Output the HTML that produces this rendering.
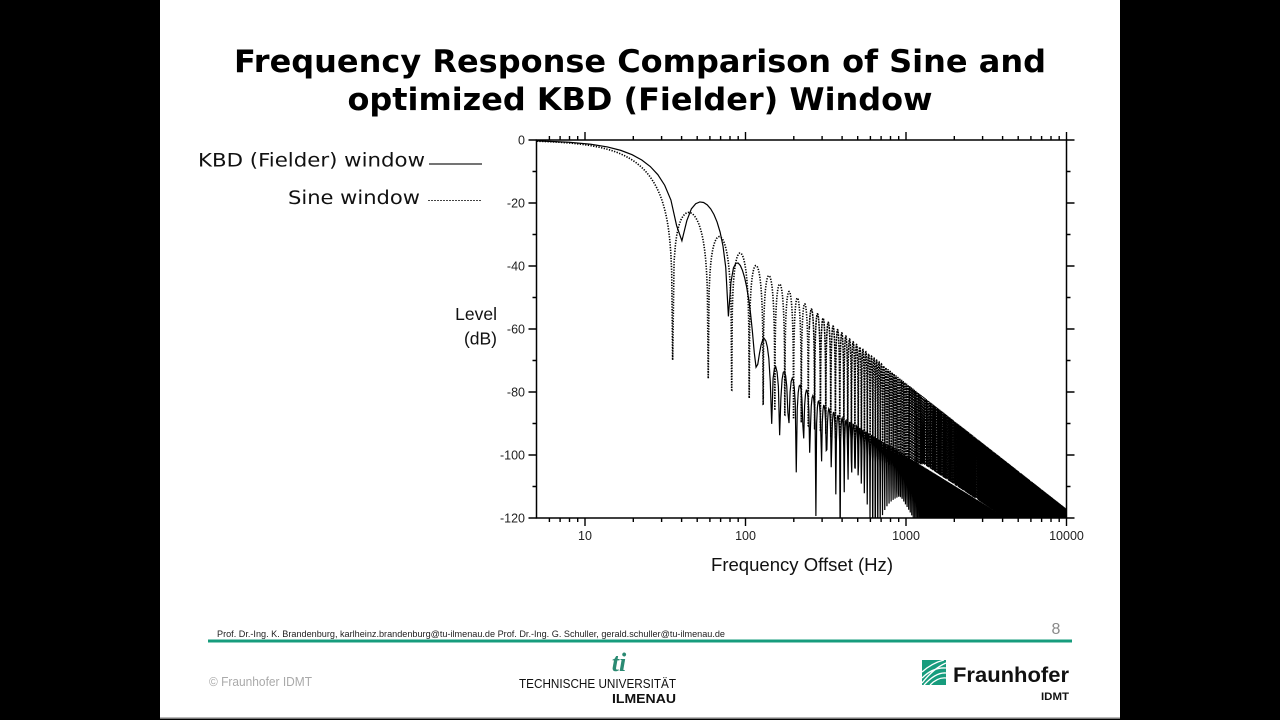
<!DOCTYPE html>
<html><head><meta charset="utf-8">
<style>
html,body{margin:0;padding:0;background:#000;width:1280px;height:720px;overflow:hidden}
svg{display:block}
</style></head><body>
<svg width="1280" height="720" viewBox="0 0 1280 720" xmlns="http://www.w3.org/2000/svg">
<rect x="0" y="0" width="1280" height="720" fill="#000"/>
<rect x="160" y="0" width="960" height="718" fill="#fff"/>
<rect x="160" y="717.5" width="960" height="1.5" fill="#777"/>

<g font-family="DejaVu Sans, sans-serif" font-weight="bold" font-size="31" fill="#000" text-anchor="middle">
<text x="640" y="72" textLength="812" lengthAdjust="spacingAndGlyphs">Frequency Response Comparison of Sine and</text>
<text x="640" y="110" textLength="585" lengthAdjust="spacingAndGlyphs">optimized KBD (Fielder) Window</text>
</g>

<g font-family="DejaVu Sans, sans-serif" font-size="18.5" fill="#111" text-anchor="end">
<text x="425" y="166.5" textLength="227" lengthAdjust="spacingAndGlyphs">KBD (Fielder) window</text>
<text x="420" y="204" textLength="132" lengthAdjust="spacingAndGlyphs">Sine window</text>
</g>
<line x1="429" y1="164" x2="482" y2="164" stroke="#222" stroke-width="1.2"/>
<line x1="428" y1="200.5" x2="482" y2="200.5" stroke="#444" stroke-width="1" stroke-dasharray="2 1"/>

<g font-family="Liberation Sans, Arial, sans-serif" font-size="17.5" fill="#111" text-anchor="end">
<text x="497" y="320">Level</text>
<text x="497" y="344.5">(dB)</text>
</g>
<text x="802" y="571" font-family="Liberation Sans, Arial, sans-serif" font-size="18.5" fill="#111" text-anchor="middle" textLength="182" lengthAdjust="spacingAndGlyphs">Frequency Offset (Hz)</text>

<rect x="536.5" y="140" width="530" height="378" fill="none" stroke="#000" stroke-width="1.5"/>
<g stroke="#000" stroke-width="1.4" fill="none">
<path d="M528.5 140H536.5M528.5 203H536.5M528.5 266H536.5M528.5 329H536.5M528.5 392H536.5M528.5 455H536.5M528.5 518H536.5"/>
<path d="M532.5 171.5H536.5M532.5 234.5H536.5M532.5 297.5H536.5M532.5 360.5H536.5M532.5 423.5H536.5M532.5 486.5H536.5"/>
<path d="M1066.5 140H1074.5M1066.5 203H1074.5M1066.5 266H1074.5M1066.5 329H1074.5M1066.5 392H1074.5M1066.5 455H1074.5M1066.5 518H1074.5"/>
<path d="M1066.5 171.5H1070.5M1066.5 234.5H1070.5M1066.5 297.5H1070.5M1066.5 360.5H1070.5M1066.5 423.5H1070.5M1066.5 486.5H1070.5"/>
<path d="M585 140V132M745.5 140V132M906 140V132M1066.5 140V132"/>
<path d="M549.4 140V136M560.1 140V136M569.5 140V136M577.7 140V136M633.3 140V136M661.6 140V136M681.6 140V136M697.2 140V136M709.9 140V136M720.6 140V136M730 140V136M738.2 140V136M793.8 140V136M822.1 140V136M842.1 140V136M857.7 140V136M870.4 140V136M881.1 140V136M890.5 140V136M898.7 140V136M954.3 140V136M982.6 140V136M1002.6 140V136M1018.2 140V136M1030.9 140V136M1041.6 140V136M1051 140V136M1059.2 140V136"/>
<path d="M585 518V526M745.5 518V526M906 518V526M1066.5 518V526"/>
<path d="M549.4 518V522M560.1 518V522M569.5 518V522M577.7 518V522M633.3 518V522M661.6 518V522M681.6 518V522M697.2 518V522M709.9 518V522M720.6 518V522M730 518V522M738.2 518V522M793.8 518V522M822.1 518V522M842.1 518V522M857.7 518V522M870.4 518V522M881.1 518V522M890.5 518V522M898.7 518V522M954.3 518V522M982.6 518V522M1002.6 518V522M1018.2 518V522M1030.9 518V522M1041.6 518V522M1051 518V522M1059.2 518V522"/>
</g>

<g font-family="Liberation Sans, Arial, sans-serif" font-size="12.5" fill="#222" text-anchor="end">
<text x="525" y="144.5">0</text>
<text x="525" y="207.5">-20</text>
<text x="525" y="270.5">-40</text>
<text x="525" y="333.5">-60</text>
<text x="525" y="396.5">-80</text>
<text x="525" y="459.5">-100</text>
<text x="525" y="522.5">-120</text>
</g>
<g font-family="Liberation Sans, Arial, sans-serif" font-size="12.5" fill="#222" text-anchor="middle">
<text x="585" y="540">10</text>
<text x="745.5" y="540">100</text>
<text x="906" y="540">1000</text>
<text x="1066.5" y="540">10000</text>
</g>

<defs><clipPath id="pc"><rect x="537" y="140" width="529" height="378"/></clipPath></defs>
<g clip-path="url(#pc)" fill="none">
<path id="sinepA" stroke="#000" stroke-width="1.6" stroke-dasharray="1.3 1.4" d=""/>
<path id="sinepB" stroke="#000" stroke-width="1.55" stroke-dasharray="1.9 0.8" d=""/>
<path id="kbdp" stroke="#000" stroke-width="1.2" d=""/>
</g>

<text x="217" y="637" font-family="Liberation Sans, Arial, sans-serif" font-size="9" fill="#222" textLength="508" lengthAdjust="spacingAndGlyphs">Prof. Dr.-Ing. K. Brandenburg, karlheinz.brandenburg@tu-ilmenau.de Prof. Dr.-Ing. G. Schuller, gerald.schuller@tu-ilmenau.de</text>
<rect x="208" y="639.5" width="864" height="3" fill="#179c7d"/>
<text x="1056" y="634" font-family="Liberation Sans, Arial, sans-serif" font-size="16" fill="#8a8a8a" text-anchor="middle">8</text>
<text x="209" y="686" font-family="Liberation Sans, Arial, sans-serif" font-size="12.5" fill="#aaa" textLength="103" lengthAdjust="spacingAndGlyphs">© Fraunhofer IDMT</text>

<text x="619" y="671" font-family="Liberation Serif, serif" font-style="italic" font-weight="bold" font-size="26" fill="#2a8a72" text-anchor="middle">ti</text>
<text x="676" y="688" font-family="Liberation Sans, Arial, sans-serif" font-size="12.5" fill="#111" text-anchor="end" textLength="157" lengthAdjust="spacingAndGlyphs">TECHNISCHE UNIVERSITÄT</text>
<text x="676" y="703" font-family="Liberation Sans, Arial, sans-serif" font-weight="bold" font-size="12.5" fill="#111" text-anchor="end" textLength="64" lengthAdjust="spacingAndGlyphs">ILMENAU</text>

<rect x="922" y="660" width="24" height="25" fill="#179c7d"/>
<g stroke="#fff" stroke-width="1.3" fill="none">
<path d="M922 683 Q934 668 946 663"/>
<path d="M922 678 Q933 667 946 668"/>
<path d="M924 685 Q936 672 946 673"/>
<path d="M930 685 Q938 677 946 678"/>
<path d="M922 672 Q932 663 944 660"/>
</g>
<text x="953" y="682" font-family="Liberation Sans, Arial, sans-serif" font-weight="bold" font-size="21" fill="#111" textLength="116" lengthAdjust="spacingAndGlyphs">Fraunhofer</text>
<text x="1069" y="700" font-family="Liberation Sans, Arial, sans-serif" font-weight="bold" font-size="11" fill="#111" text-anchor="end" textLength="28" lengthAdjust="spacingAndGlyphs">IDMT</text>
</svg>

<script>
(function(){
 var b=48000/2048;
 var LG=Math.LN10;
 function lg(x){return Math.log(x)/LG;}
 function X(f){return 585+160.5*(lg(f)-1);}
 function Y(db){if(!(db>-140))db=-140;return 140-db*3.15;}
 function dB(m){return 20*lg(Math.max(m,1e-12));}
 // ---- sine window (analytic) ----
 function sm(x){var d=1-4*x*x;if(Math.abs(d)<1e-9)return Math.PI/4;return Math.abs(Math.cos(Math.PI*x)/d);}
 function Dlow(f){return -43+16.5*lg(f/120);}
 function relD(f){
   var D;
   if(f<900){D=Dlow(f);}
   else if(f<1276){var t=(lg(f)-lg(900))/(lg(1276)-lg(900));D=Dlow(900)*(1-t)+(-21)*t;}
   else{D=-21+3*(lg(f)-lg(1276))/(lg(3740)-lg(1276));}
   if(D>-14.5)D=-14.5;
   return D;
 }
 function del(m){var f=(m+0.5)*b;return Math.asin(Math.pow(10,relD(f)/20))/Math.PI;}
 var xs=[];
 var x0=5/b, x1=1.5-del(1);
 for(var i=0;i<=150;i++){xs.push(x0*Math.pow(x1/x0,i/150));}
 var mMax=Math.ceil(10000/b);
 for(var m=1;m<=mMax;m++){
   var K=m<30?32:8;
   var a=m+0.5;
   xs.push(a+del(m));
   for(var j=1;j<K;j++)xs.push(a+j/K);
   xs.push(a+1-del(m+1));
 }
 var dA=[],dB2=[],split=250,last=null;
 for(i=0;i<xs.length;i++){
   var f=xs[i]*b;
   var pt=X(f).toFixed(2)+" "+Y(dB(sm(xs[i]))).toFixed(2);
   if(f<split){dA.push((dA.length?"L":"M")+pt);}
   else{ if(!dB2.length){dB2.push("M"+(last||pt));} dB2.push("L"+pt);}
   last=pt;
 }
 document.getElementById("sinepA").setAttribute("d",dA.join(""));
 document.getElementById("sinepB").setAttribute("d",dB2.join(""));
 // ---- KBD alpha=4, N=2048 ----
 var N=2048,M=1024,al=4;
 function I0(x){var s=1,t=1;for(var k=1;k<100;k++){var q=x/(2*k);t*=q*q;s+=t;if(t<1e-18*s)break;}return s;}
 var v=[],tot=0,n;
 for(n=0;n<=M;n++){var r=(n-M/2)/(M/2);var z=I0(Math.PI*al*Math.sqrt(Math.max(0,1-r*r)));v.push(z);tot+=z;}
 var w=new Float64Array(M),cs=0,W0=0;
 for(n=0;n<M;n++){var S=cs+0.5*v[n];cs+=v[n];w[n]=Math.sqrt(S/tot);W0+=2*w[n];}
 var c=(N-1)/2;
 function kb(f){var om=2*Math.PI*f/48000,s=0;for(var n=0;n<M;n++)s+=w[n]*Math.cos(om*(n-c));return Math.abs(2*s)/W0;}
 var fs=[],db=[],step=b/8;
 for(var k=0;;k++){
   var f=5+k*step; if(f>10100)break;
   fs.push(f); db.push(dB(kb(f)));
 }
 var L=db.length,R=10,out=[];
 for(i=0;i<L;i++){
   var ff=fs[i],val=db[i];
   if(ff>250){
     var mx=-1e9;
     for(j=Math.max(0,i-R);j<=Math.min(L-1,i+R);j++)if(db[j]>mx)mx=db[j];
     var tgt=-100-32*lg(ff/1000);
     var wt=Math.min(1,(lg(ff)-lg(250))/(lg(400)-lg(250)));
     val=val+wt*(tgt-mx);
   }
   if(ff>36&&ff<42.5&&val<-32)val=-32;
   if(ff>73&&ff<83&&val<-56)val=-56;
   out.push((i?"L":"M")+X(ff).toFixed(2)+" "+Y(val).toFixed(2));
 }
 document.getElementById("kbdp").setAttribute("d",out.join(""));
})();
</script>
</body></html>
